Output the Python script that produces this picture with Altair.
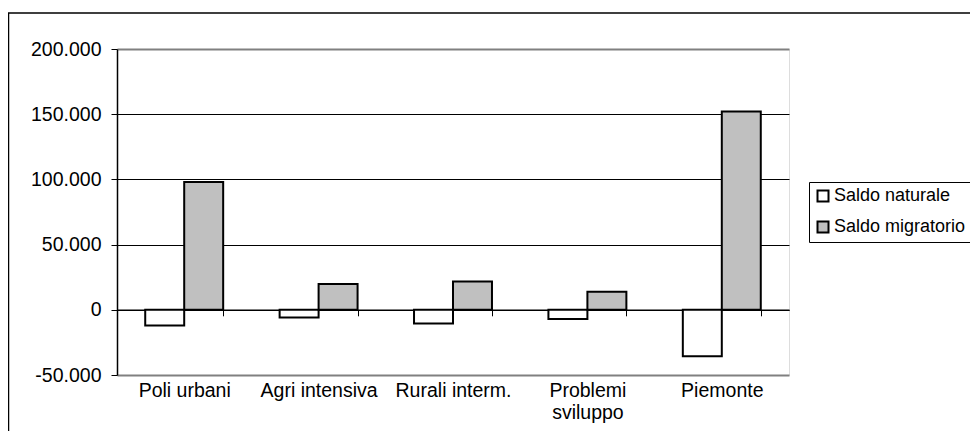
import altair as alt
import pandas as pd

categories = ["Poli urbani", "Agri intensiva", "Rurali interm.", "Problemi sviluppo", "Piemonte"]
saldo_naturale = [-12000, -6000, -10500, -7100, -35700]
saldo_migratorio = [98000, 19700, 21700, 13800, 152000]
series = ["Saldo naturale", "Saldo migratorio"]
y_ticks = [-50000, 0, 50000, 100000, 150000, 200000]

rows = []
for c, n, m in zip(categories, saldo_naturale, saldo_migratorio):
    rows.append({"cat": c, "serie": series[0], "val": n})
    rows.append({"cat": c, "serie": series[1], "val": m})
df = pd.DataFrame(rows)

FONT = "Liberation Sans"

frame = alt.Chart(pd.DataFrame({"a": [0]})).mark_rect(
    fillOpacity=0, stroke="black", strokeWidth=1.5
).encode(
    x=alt.value(-108.5), x2=alt.value(900), y=alt.value(-36), y2=alt.value(440)
)

bars = alt.Chart(df).mark_bar(stroke="black", strokeWidth=2).encode(
    x=alt.X(
        "cat:N",
        sort=categories,
        scale=alt.Scale(paddingInner=0.42, paddingOuter=0.21),
        axis=alt.Axis(
            title=None,
            orient="bottom",
            offset=-65.2,
            domain=True,
            domainColor="black",
            domainWidth=1.5,
            ticks=True,
            tickColor="black",
            tickSize=6,
            tickWidth=1,
            tickBand="extent",
            labelAngle=0,
            labelPadding=66,
            labelFontSize=19.5,
            labelColor="black",
            labelFont=FONT,
            labelLineHeight=22,
            labelExpr="datum.label == 'Problemi sviluppo' ? ['Problemi', 'sviluppo'] : datum.label",
        ),
    ),
    xOffset=alt.XOffset("serie:N", sort=series, scale=alt.Scale(paddingInner=0, paddingOuter=0)),
    y=alt.Y(
        "val:Q",
        stack=None,
        scale=alt.Scale(domain=[-50000, 200000], nice=False, zero=False),
        axis=alt.Axis(
            title=None,
            values=y_ticks,
            domainColor="black",
            domainWidth=1.5,
            tickColor="black",
            tickSize=6,
            labelPadding=10,
            labelFontSize=19.5,
            labelColor="black",
            labelFont=FONT,
            labelExpr="(datum.value < 0 ? '-' : '') + replace(format(abs(datum.value), ','), ',', '.')",
            grid=True,
            gridColor={"condition": {"test": "datum.value >= 200000 || datum.value <= -50000", "value": "#808080"}, "value": "black"},
            gridWidth={"condition": {"test": "datum.value >= 200000 || datum.value <= -50000", "value": 2}, "value": 1},
        ),
    ),
    fill=alt.Fill(
        "serie:N",
        sort=series,
        scale=alt.Scale(domain=series, range=["white", "#c0c0c0"]),
        legend=alt.Legend(
            title=None,
            orient="none",
            legendX=692,
            legendY=133,
            strokeColor="black",
            fillColor="white",
            padding=5,
            symbolType="square",
            symbolSize=121,
            symbolStrokeColor="black",
            symbolStrokeWidth=2,
            labelFontSize=18,
            labelFont=FONT,
            labelColor="black",
            labelOffset=2,
            rowPadding=11,
            labelLimit=300,
        ),
    ),
)

chart = alt.layer(frame, bars).properties(
    width=672,
    height=326,
    autosize=alt.AutoSizeParams(type="none"),
    padding={"left": 109, "top": 41, "right": 181, "bottom": 56},
).configure_view(
    stroke="#808080", strokeWidth=2
).configure(font=FONT, background="white")

chart.save("out.html", embed_options={"renderer": "svg", "actions": False})
